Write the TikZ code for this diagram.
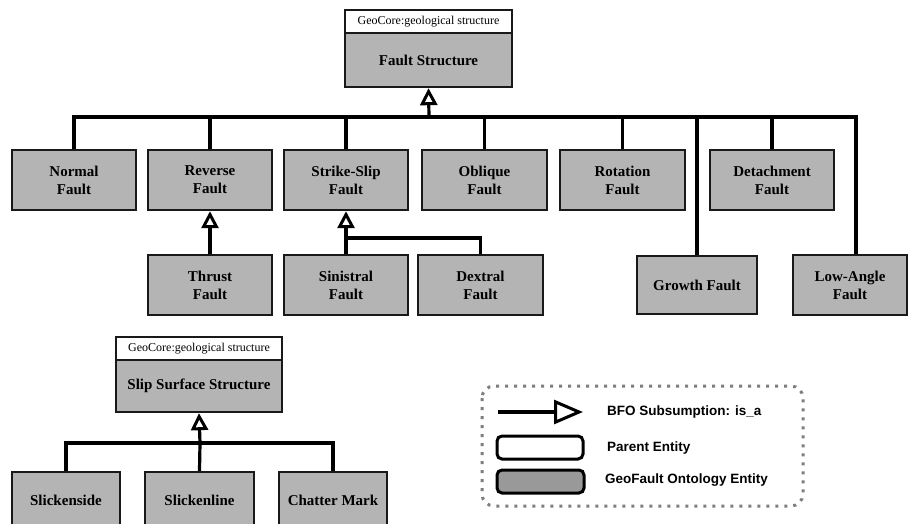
\documentclass[tikz,border=0pt]{standalone}
\usepackage{fontspec}
\setmainfont{Liberation Serif}
\newfontfamily\legendfont{Liberation Sans}
\usetikzlibrary{arrows.meta}

\definecolor{entgray}{HTML}{B4B4B4}
\definecolor{keygray}{HTML}{999999}
\definecolor{dotgray}{HTML}{7E7E7E}

\tikzset{
  entity/.style={draw=black!90, line width=2.4pt, fill=entgray, align=center,
    font=\fontsize{15}{18}\selectfont\bfseries, inner sep=0pt},
  parent/.style={draw=black!90, line width=1.6pt, fill=white, align=center,
    font=\fontsize{12}{14}\selectfont, inner sep=0pt},
  conn/.style={line width=3.2pt, line cap=butt},
  isa/.style={conn, -{Triangle[fill=white, length=17pt, width=17pt, line width=3pt]}},
  keyisa/.style={conn, -{Triangle[fill=white, length=29pt, width=24pt, line width=3pt]}},
  keybox/.style={draw=black, line width=3pt, rounded corners=5pt},
  keytext/.style={anchor=west, font=\legendfont\fontsize{13.5}{16}\selectfont\bfseries, inner sep=0pt},
}

\begin{document}
\begin{tikzpicture}[x=1pt, y=-1pt]
\useasboundingbox (0,0) rectangle (909,524);

% ---------- fault hierarchy ----------
\node[parent, minimum width=167pt, minimum height=23pt] (geo1) at (428.5,21.5) {GeoCore:geological structure};
\node[entity, minimum width=167pt, minimum height=54pt] (fs) at (428.5,60) {Fault Structure};

\tikzset{r1/.style={entity, minimum width=124pt, minimum height=60pt}}
\node[r1] (normal)   at (74,180)    {Normal\\Fault};
\node[r1] (reverse)  at (210,180)   {Reverse\\Fault};
\node[r1] (strike)   at (346,180)   {Strike-Slip\\Fault};
\node[r1, minimum width=125pt] (oblique)  at (484.5,180) {Oblique\\Fault};
\node[r1, minimum width=125pt] (rotation) at (622.5,180) {Rotation\\Fault};
\node[r1] (detach)   at (772,180)   {Detachment\\Fault};

\node[r1] (thrust)    at (210,285)   {Thrust\\Fault};
\node[r1] (sinistral) at (346,285)   {Sinistral\\Fault};
\node[r1, minimum width=125pt] (dextral) at (480.5,285) {Dextral\\Fault};
\node[r1, minimum width=120pt, minimum height=58pt] (growth) at (697,285) {Growth Fault};
\node[r1, minimum width=114pt] (lowangle) at (850,285) {Low-Angle\\Fault};

\coordinate (bus) at (429,117);
\foreach \n in {normal, reverse, strike, oblique, rotation, growth, detach}
  \draw[conn] (\n.north) |- (bus);
\draw[conn] ([xshift=6pt]lowangle.north) |- (bus);
\draw[isa] (bus) -- (fs.south);

\draw[isa] (thrust.north) -- (reverse.south);
\coordinate (ssbus) at (346,238);
\draw[conn] (dextral.north) |- (ssbus);
\draw[isa] (sinistral.north) -- (strike.south);

% ---------- slip surface hierarchy ----------
\node[parent, minimum width=166pt, minimum height=23pt] (geo2) at (199,348.5) {GeoCore:geological structure};
\node[entity, minimum width=166pt, minimum height=52pt] (sss) at (199,386) {Slip Surface Structure};

\tikzset{r3/.style={entity, minimum width=108pt, minimum height=56pt}}
\node[r3] (slickside) at (66,500)    {Slickenside};
\node[r3, minimum width=109pt] (slickline) at (199.5,500) {Slickenline};
\node[r3] (chatter)   at (333,500)   {Chatter Mark};

\coordinate (bus2) at (200,443);
\draw[conn] (slickside.north) |- (bus2);
\draw[conn] (chatter.north) |- (bus2);
\draw[conn] (slickline.north) -- (bus2);
\draw[isa] (bus2) -- (sss.south);

% ---------- key ----------
\draw[dotgray, line width=3pt, dash pattern=on 3pt off 6pt, rounded corners=12pt]
  (482,386) rectangle (803,506);
\coordinate (ka) at (498,412);
\coordinate (kb) at (583,412);
\draw[keyisa] (ka) -- (kb);
\node[keytext] (kt1) at (607,412) {BFO Subsumption: is\_a};

\node[keybox, fill=white, minimum width=86pt, minimum height=23pt] (kp) at (540,447.5) {};
\node[keytext] (kt2) at (607,448) {Parent Entity};

\node[keybox, fill=keygray, minimum width=87pt, minimum height=23pt] (kg) at (540.5,481.5) {};
\node[keytext] (kt3) at (605,480) {GeoFault Ontology Entity};
\end{tikzpicture}
\end{document}
